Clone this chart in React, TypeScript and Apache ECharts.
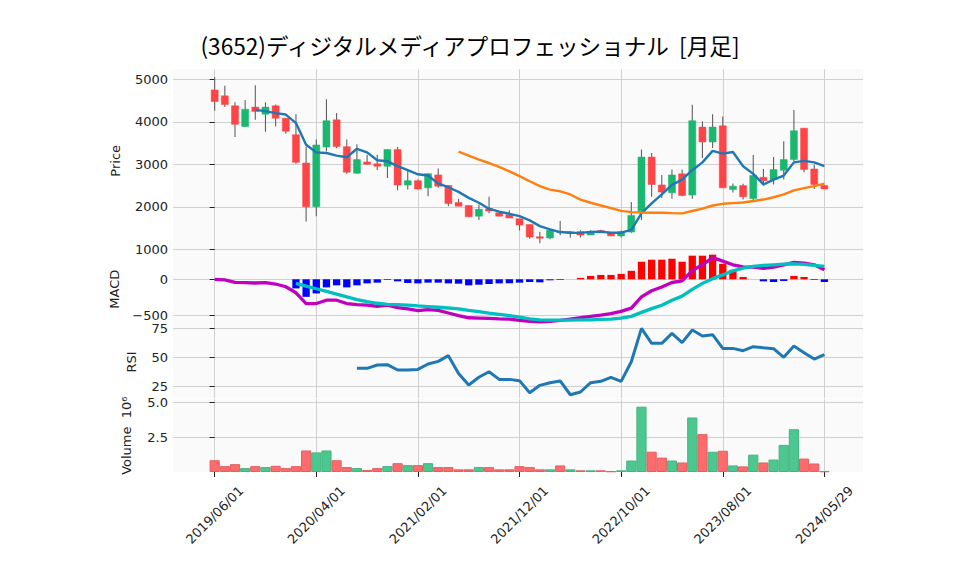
import React, { useEffect, useRef } from "react";
import * as echarts from "echarts";

const dates = [
  "2019/06/01","2019/07/01","2019/08/01","2019/09/01","2019/10/01","2019/11/01","2019/12/01",
  "2020/01/01","2020/02/01","2020/03/01","2020/04/01","2020/05/01","2020/06/01","2020/07/01",
  "2020/08/01","2020/09/01","2020/10/01","2020/11/01","2020/12/01",
  "2021/01/01","2021/02/01","2021/03/01","2021/04/01","2021/05/01","2021/06/01","2021/07/01",
  "2021/08/01","2021/09/01","2021/10/01","2021/11/01","2021/12/01",
  "2022/01/01","2022/02/01","2022/03/01","2022/04/01","2022/05/01","2022/06/01","2022/07/01",
  "2022/08/01","2022/09/01","2022/10/01","2022/11/01","2022/12/01",
  "2023/01/01","2023/02/01","2023/03/01","2023/04/01","2023/05/01","2023/06/01","2023/07/01",
  "2023/08/01","2023/09/01","2023/10/01","2023/11/01","2023/12/01",
  "2024/01/01","2024/02/01","2024/03/01","2024/04/01","2024/05/01","2024/05/29",
];

const opens = [
  4750, 4610, 4375, 3890, 4345, 4180, 4375, 4085, 3695, 3030,
  2000, 3405, 4045, 3415, 2790, 3055, 3010, 2955, 3345, 2510,
  2615, 2445, 2750, 2500, 2100, 2030, 1780, 1955, 1860, 1815,
  1720, 1585, 1295, 1265, 1400, 1375, 1415, 1335, 1440, 1390,
  1315, 1405, 1860, 3170, 2515, 2330, 2775, 2275, 3875, 3525,
  3905, 2405, 2500, 2195, 2695, 2640, 2860, 3110, 3850, 2890,
  2500,
];
const highs = [
  5045, 4845, 4460, 4510, 4860, 4460, 4405, 4090, 4180, 3420,
  3585, 4530, 4205, 3585, 3470, 3225, 3225, 3345, 3405, 2875,
  2640, 2790, 2900, 2500, 2190, 2030, 2055, 2235, 1900, 1920,
  1720, 1585, 1415, 1445, 1665, 1430, 1445, 1445, 1460, 1390,
  1440, 2110, 3345, 3265, 2750, 2875, 2875, 4400, 4010, 4180,
  4125, 2545, 2540, 3220, 2890, 3170, 3540, 4280, 3850, 2990,
  2500,
];
const lows = [
  4260, 4345, 3640, 3875, 4045, 3765, 3890, 3720, 3015, 1655,
  1780, 3305, 3375, 2775, 2775, 2990, 2865, 2680, 2390, 2405,
  2405, 2250, 2445, 2015, 2010, 1765, 1690, 1845, 1780, 1735,
  1440, 1250, 1140, 1235, 1330, 1280, 1280, 1335, 1385, 1315,
  1275, 1390, 1690, 2235, 2205, 2190, 2250, 2190, 3150, 3385,
  2445, 2335, 2170, 2155, 2500, 2525, 2640, 3070, 2815, 2420,
  2420,
];
const closes = [
  4475, 4405, 3940, 4295, 4240, 4345, 4085, 3775, 3045, 2000,
  3455, 4025, 3420, 2815, 3110, 3000, 2955, 3345, 2510, 2615,
  2420, 2780, 2485, 2080, 2015, 1765, 1940, 1900, 1780, 1735,
  1570, 1290, 1260, 1445, 1415, 1415, 1335, 1415, 1385, 1315,
  1415, 1795, 3170, 2525, 2345, 2750, 2265, 4025, 3525, 3875,
  2445, 2485, 2235, 2735, 2615, 2875, 3110, 3790, 2875, 2525,
  2420,
];

// volume in millions of shares; colour direction as drawn (u = green, d = red)
const volumes = [
  0.84, 0.42, 0.56, 0.28, 0.42, 0.35, 0.44, 0.28, 0.42, 1.54,
  1.40, 1.54, 0.84, 0.35, 0.28, 0.14, 0.28, 0.42, 0.63, 0.49,
  0.49, 0.63, 0.35, 0.35, 0.19, 0.19, 0.35, 0.35, 0.19, 0.19,
  0.42, 0.35, 0.19, 0.19, 0.47, 0.19, 0.12, 0.12, 0.12, 0.05,
  0.12, 0.82, 4.67, 1.45, 1.03, 0.82, 0.68, 3.90, 2.71, 1.45,
  1.52, 0.47, 0.40, 1.24, 0.68, 0.89, 1.94, 3.06, 0.96, 0.61,
  0.05,
];
const volumeDir = [
  "d","d","d","u","d","u","d","d","d","d",
  "u","u","d","d","u","d","d","u","d","u",
  "d","u","d","d","d","d","u","d","d","d",
  "d","d","d","u","d","u","d","u","d","d",
  "u","u","u","d","d","u","d","u","d","u",
  "d","u","d","u","d","u","u","u","d","d",
  "d",
];

const ma5 = [
  null, null, null, null, 4280, 4250, 4205, 4170, 3970, 3460,
  3280, 3265, 3205, 3165, 3365, 3280, 3095, 3070, 2955, 2860,
  2765, 2735, 2545, 2460, 2350, 2210, 2095, 1955, 1885, 1835,
  1780, 1680, 1545, 1470, 1405, 1390, 1385, 1405, 1415, 1390,
  1390, 1455, 1845, 2080, 2290, 2515, 2640, 2860, 3045, 3315,
  3250, 3290, 2955, 2775, 2525, 2640, 2735, 3045, 3080, 3045,
  2955,
];
const ma25 = [
  null, null, null, null, null, null, null, null, null, null,
  null, null, null, null, null, null, null, null, null, null,
  null, null, null, null, 3295, 3205, 3110, 3030, 2940, 2835,
  2720, 2600, 2485, 2405, 2365, 2290, 2170, 2095, 2030, 1970,
  1905, 1875, 1865, 1860, 1860, 1850, 1845, 1900, 1955, 2030,
  2070, 2085, 2100, 2135, 2170, 2225, 2290, 2385, 2440, 2485,
  2545,
];

const macdLine = [
  0, -9, -42, -46, -51, -46, -65, -102, -185, -333,
  -333, -287, -287, -333, -347, -356, -370, -356, -389, -407,
  -431, -417, -426, -463, -500, -528, -532, -537, -542, -546,
  -565, -576, -583, -579, -565, -546, -528, -509, -491, -472,
  -440, -395, -241, -157, -105, -44, -21, 118, 199, 298,
  250, 199, 170, 167, 150, 167, 199, 232, 222, 199,
  130,
];
const signalLine = [
  null, null, null, null, null, null, null, null, -56, -93,
  -130, -167, -204, -241, -278, -306, -329, -343, -347, -356,
  -366, -375, -384, -394, -407, -426, -444, -463, -481, -500,
  -519, -542, -556, -560, -560, -560, -556, -556, -551, -546,
  -532, -509, -454, -403, -356, -287, -231, -139, -56, 9,
  60, 116, 153, 176, 190, 199, 208, 213, 204, 190,
  176,
];
const macdHist = [
  null, null, null, null, null, null, null, null, -125, -241,
  -194, -111, -83, -111, -83, -56, -46, -9, -28, -51,
  -56, -46, -46, -56, -60, -83, -74, -65, -56, -56,
  -46, -37, -42, -14, -9, 0, 19, 46, 60, 60,
  74, 116, 241, 269, 269, 282, 241, 324, 324, 338,
  213, 130, 32, 0, -28, -37, -23, 46, 32, -9,
  -37,
];

const rsi = [
  null, null, null, null, null, null, null, null, null, null,
  null, null, null, null, 40.4, 40.4, 43.3, 43.6, 39.0, 39.0,
  39.5, 44.2, 46.5, 51.5, 36.0, 25.9, 32.6, 37.5, 30.8, 30.8,
  29.7, 19.2, 25.6, 27.9, 29.4, 17.4, 19.8, 27.9, 29.1, 32.6,
  29.1, 46.2, 75.3, 62.2, 62.2, 70.9, 62.8, 73.8, 68.6, 69.8,
  57.8, 57.8, 55.8, 59.3, 58.4, 57.6, 50.0, 59.9, 54.1, 48.5,
  52.3,
];

const xTicks = [0, 10, 20, 30, 40, 50, 60];
const priceTicks = [1000, 2000, 3000, 4000, 5000];
const macdTicks = [-500, 0];
const rsiTicks = [25, 50, 75];
const volTicks = [2.5, 5.0];

const TITLE = "(3652)ディジタルメディアプロフェッショナル  [月足]";

const FONT = "DejaVu Sans";
const GRID_COLOR = "#d0d0d0";
const LABEL_COLOR = "#222";

const pairs = (arr: (number | null)[]) =>
  arr.map((v, i) => (v == null ? null : [i, v])).filter((p) => p != null);

export default function App() {
  const ref = useRef<HTMLDivElement>(null);

  useEffect(() => {
    if (!ref.current) return;
    const chart = echarts.init(ref.current, undefined, { renderer: "svg" });

    const panels = [
      { top: 69.3, height: 183 },
      { top: 252.7, height: 73 },
      { top: 325.7, height: 72.6 },
      { top: 399.3, height: 72.7 },
    ];

    const grid = panels.map((p) => ({
      left: 173,
      right: 95,
      top: p.top,
      height: p.height,
      show: true,
      backgroundColor: "#fafafa",
      borderWidth: 0,
    }));

    const xAxis = panels.map((_, i) => ({
      type: "value",
      gridIndex: i,
      min: -4.1,
      max: 63.8,
      axisLine: { show: false },
      axisTick: {
        show: i === 3,
        customValues: xTicks,
        length: 5,
        lineStyle: { color: "#222", width: 1 },
      },
      axisLabel: {
        show: i === 3,
        customValues: xTicks,
        rotate: 45,
        align: "center",
        verticalAlign: "middle",
        margin: 43,
        fontFamily: FONT,
        fontSize: 13,
        color: LABEL_COLOR,
        formatter: (v: number) => dates[Math.round(v)] ?? "",
      },
      splitLine: { show: true, lineStyle: { color: GRID_COLOR, width: 1 } },
    }));

    const yBase = (
      i: number,
      min: number,
      max: number,
      ticks: number[],
      name: string,
      gap: number,
      fmt: (v: number) => string
    ) => ({
      type: "value",
      gridIndex: i,
      min,
      max,
      name,
      nameLocation: "middle",
      nameRotate: 90,
      nameGap: gap,
      nameTextStyle: { fontFamily: FONT, fontSize: 13, color: LABEL_COLOR },
      axisLine: { show: false },
      axisTick: {
        show: true,
        customValues: ticks,
        length: 5,
        lineStyle: { color: "#222", width: 1 },
      },
      axisLabel: {
        show: true,
        customValues: ticks,
        margin: 5,
        fontFamily: FONT,
        fontSize: 13,
        color: LABEL_COLOR,
        formatter: fmt,
      },
      splitLine: { show: true, lineStyle: { color: GRID_COLOR, width: 1 } },
    });

    const yAxis = [
      yBase(0, 929, 5235, priceTicks, "Price", 51, (v) => String(v)),
      yBase(1, -637, 365, macdTicks, "MACD", 51, (v) => (v < 0 ? "\u2212" + Math.abs(v) : String(v))),
      yBase(2, 14.3, 77.6, rsiTicks, "RSI", 35, (v) => String(v)),
      yBase(3, 0, 5.2, volTicks, "Volume  10\u2076", 40, (v) => v.toFixed(1)),
    ];

    const candleData = opens.map((o, i) => [i, o, closes[i], lows[i], highs[i]]);

    const option: any = {
      animation: false,
      textStyle: { fontFamily: FONT },
      grid,
      xAxis,
      yAxis,
      graphic: [
        {
          type: "text",
          x: 470,
          y: 45,
          style: {
            text: TITLE,
            fontFamily: "Noto Sans CJK JP",
            fontSize: 22.6,
            fill: "#000",
            align: "center",
            verticalAlign: "middle",
          },
        },
      ],
      series: [
        {
          type: "custom",
          name: "candles",
          xAxisIndex: 0,
          yAxisIndex: 0,
          data: candleData,
          encode: { x: 0, y: [1, 2, 3, 4] },
          clip: true,
          renderItem: (params: any, api: any) => {
            const x = api.value(0);
            const o = api.value(1);
            const c = api.value(2);
            const l = api.value(3);
            const h = api.value(4);
            const pO = api.coord([x, o]);
            const pC = api.coord([x, c]);
            const pL = api.coord([x, l]);
            const pH = api.coord([x, h]);
            const w = 7;
            const up = c >= o;
            const color = up ? "#19b76f" : "#fe4446";
            const top = Math.min(pO[1], pC[1]);
            const bh = Math.max(Math.abs(pO[1] - pC[1]), 1);
            return {
              type: "group",
              children: [
                {
                  type: "line",
                  shape: { x1: pH[0], y1: pH[1], x2: pL[0], y2: pL[1] },
                  style: { stroke: "#606060", lineWidth: 1.1 },
                },
                {
                  type: "rect",
                  shape: { x: pO[0] - w / 2, y: top, width: w, height: bh },
                  style: { fill: color, stroke: color, lineWidth: 0.5 },
                },
              ],
            };
          },
        },
        {
          type: "line",
          name: "MA5",
          xAxisIndex: 0,
          yAxisIndex: 0,
          data: pairs(ma5),
          showSymbol: false,
          lineStyle: { color: "#1f77b4", width: 2.4 },
          z: 5,
        },
        {
          type: "line",
          name: "MA25",
          xAxisIndex: 0,
          yAxisIndex: 0,
          data: pairs(ma25),
          showSymbol: false,
          lineStyle: { color: "#ff7f0e", width: 2.4 },
          z: 5,
        },
        {
          type: "bar",
          name: "hist",
          xAxisIndex: 1,
          yAxisIndex: 1,
          barWidth: 7.3,
          data: macdHist
            .map((v, i) =>
              v == null
                ? null
                : { value: [i, v], itemStyle: { color: v >= 0 ? "#ff0000" : "#0000ff" } }
            )
            .filter((d) => d != null),
        },
        {
          type: "line",
          name: "MACD",
          xAxisIndex: 1,
          yAxisIndex: 1,
          data: pairs(macdLine),
          showSymbol: false,
          lineStyle: { color: "#bf00bf", width: 3.3 },
          z: 5,
        },
        {
          type: "line",
          name: "Signal",
          xAxisIndex: 1,
          yAxisIndex: 1,
          data: pairs(signalLine),
          showSymbol: false,
          lineStyle: { color: "#00bfbf", width: 3.3 },
          z: 6,
        },
        {
          type: "line",
          name: "RSI",
          xAxisIndex: 2,
          yAxisIndex: 2,
          data: pairs(rsi),
          showSymbol: false,
          lineStyle: { color: "#1f77b4", width: 3 },
        },
        {
          type: "bar",
          name: "Volume",
          xAxisIndex: 3,
          yAxisIndex: 3,
          barWidth: 10.2,
          data: volumes.map((v, i) => {
            const up = volumeDir[i] === "u";
            return {
              value: [i, v],
              itemStyle: {
                color: up ? "#4dc790" : "#fd6b6c",
                borderColor: up ? "#45b382" : "#e45f60",
                borderWidth: 1,
              },
            };
          }),
        },
      ],
    };

    chart.setOption(option);
    return () => chart.dispose();
  }, []);

  return (
    <div
      ref={ref}
      style={{ position: "fixed", left: 0, top: 0, width: 958, height: 575, background: "#fff" }}
    />
  );
}
